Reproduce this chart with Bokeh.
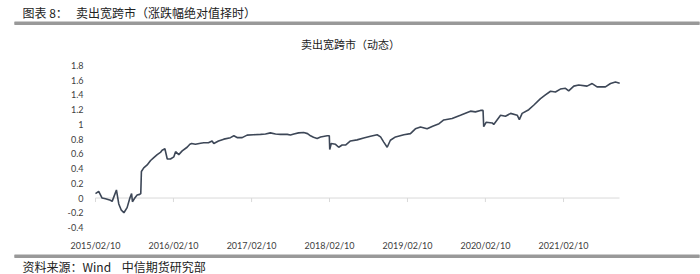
import pandas as pd
from bokeh.plotting import figure
from bokeh.models import Range1d, FixedTicker, DatetimeTickFormatter, LinearAxis, DatetimeAxis
from bokeh.core.properties import value
from bokeh.embed import file_html
from bokeh.resources import INLINE

# ---- data ----
dates = [
    "2015-02-10", "2015-02-25", "2015-03-13", "2015-03-29", "2015-04-21", "2015-04-29",
    "2015-05-10", "2015-05-19", "2015-05-30", "2015-06-10", "2015-06-23", "2015-07-08",
    "2015-07-21", "2015-07-29", "2015-08-02", "2015-08-13", "2015-08-24", "2015-09-05",
    "2015-09-10", "2015-09-13", "2015-09-24", "2015-10-10", "2015-10-26", "2015-11-10",
    "2015-11-26", "2015-12-11", "2015-12-19", "2016-01-01", "2016-01-12", "2016-01-27",
    "2016-02-12", "2016-02-20", "2016-03-06", "2016-03-22", "2016-04-14", "2016-04-27",
    "2016-05-05", "2016-05-23", "2016-06-16", "2016-07-01", "2016-07-23", "2016-08-09",
    "2016-08-17", "2016-09-08", "2016-10-03", "2016-11-03", "2016-11-19", "2016-12-06",
    "2016-12-28", "2017-01-20", "2017-02-19", "2017-03-24", "2017-04-16", "2017-05-09",
    "2017-06-02", "2017-06-25", "2017-07-27", "2017-08-11", "2017-08-27", "2017-09-18",
    "2017-10-12", "2017-10-30", "2017-11-13", "2017-11-27", "2017-12-14", "2017-12-30",
    "2018-01-30", "2018-02-09", "2018-02-11", "2018-02-18", "2018-03-10", "2018-03-25",
    "2018-04-10", "2018-04-26", "2018-05-19", "2018-06-19", "2018-07-20", "2018-08-21",
    "2018-09-21", "2018-10-07", "2018-10-22", "2018-11-07", "2018-11-22", "2018-12-16",
    "2019-01-24", "2019-02-24", "2019-03-19", "2019-04-12", "2019-05-13", "2019-06-08",
    "2019-07-08", "2019-07-30", "2019-09-07", "2019-10-16", "2019-12-02", "2019-12-25",
    "2020-01-18", "2020-01-30", "2020-02-02", "2020-02-14", "2020-03-13", "2020-03-20",
    "2020-04-21", "2020-05-14", "2020-06-07", "2020-07-08", "2020-07-18", "2020-07-31",
    "2020-08-31", "2020-09-23", "2020-10-25", "2020-11-17", "2020-12-11", "2021-01-03",
    "2021-01-26", "2021-02-19", "2021-03-06", "2021-03-30", "2021-04-22", "2021-05-31",
    "2021-06-24", "2021-07-17", "2021-08-25", "2021-09-18", "2021-10-11", "2021-10-31",
]
values = [
    0.06, 0.09, 0.00, -0.01, -0.03, -0.045,
    0.04, 0.11, -0.08, -0.16, -0.20, -0.13,
    0.00, 0.06, -0.05, 0.00, 0.04, 0.05,
    0.06, 0.36, 0.41, 0.45, 0.51, 0.55,
    0.59, 0.62, 0.65, 0.67, 0.53, 0.53,
    0.56, 0.63, 0.59, 0.64, 0.69, 0.73,
    0.74, 0.73, 0.745, 0.75, 0.75, 0.775,
    0.74, 0.775, 0.80, 0.82, 0.845, 0.82,
    0.82, 0.855, 0.86, 0.865, 0.87, 0.885,
    0.87, 0.865, 0.865, 0.855, 0.87, 0.885,
    0.89, 0.875, 0.845, 0.825, 0.81, 0.83,
    0.845, 0.845, 0.66, 0.74, 0.73, 0.69,
    0.72, 0.72, 0.775, 0.79, 0.815, 0.84,
    0.86, 0.83, 0.76, 0.69, 0.785, 0.83,
    0.86, 0.875, 0.94, 0.965, 0.94, 0.975,
    1.01, 1.06, 1.08, 1.125, 1.18, 1.17,
    1.19, 1.19, 0.97, 1.03, 1.02, 1.00,
    1.125, 1.11, 1.15, 1.125, 1.065, 1.15,
    1.20, 1.26, 1.35, 1.40, 1.45, 1.44,
    1.48, 1.49, 1.455, 1.52, 1.535, 1.52,
    1.555, 1.51, 1.51, 1.555, 1.575, 1.56,
]
x_tick_dates = ["2015-02-10", "2016-02-10", "2017-02-10", "2018-02-10",
                "2019-02-10", "2020-02-10", "2021-02-10"]
x_tick_labels = ["2015/02/10", "2016/02/10", "2017/02/10", "2018/02/10",
                 "2019/02/10", "2020/02/10", "2021/02/10"]
y_ticks = [-0.4, -0.2, 0, 0.2, 0.4, 0.6, 0.8, 1, 1.2, 1.4, 1.6, 1.8]
y_tick_labels = ["-0.4", "-0.2", "0", "0.2", "0.4", "0.6", "0.8", "1", "1.2", "1.4", "1.6", "1.8"]
x_start, x_end = "2015-02-10", "2021-10-30"
y_min, y_max = -0.4, 1.8

NB = "\u00a0"
header_text = "图表 8：" + NB * 3 + "卖出宽跨市（涨跌幅绝对值择时）"
title_text = "卖出宽跨市（动态）"
footer_text = "资料来源：Wind" + NB * 4 + "中信期货研究部"

# ---- layout constants (canvas pixels, measured from the top-left) ----
W, H = 700, 274
FL, FR, FT, FB = 95, 619, 65, 227     # plotting area of the chart
RULE_ROWS = [22.5, 255.5]             # grey rules under the header / above the source
RULE_COLOR = "#999999"
CJK = "Noto Sans CJK SC"


def to_ms(lst):
    return [float(v) for v in (pd.to_datetime(lst).asi8 // 10**6)]


def cy(y_from_top):
    # default y range runs upward; convert a from-the-top pixel position
    return H - y_from_top


xs = to_ms(dates)
tick_ms = to_ms(x_tick_dates)
start_ms, end_ms = to_ms([x_start, x_end])

# one canvas; default ranges are canvas pixels, the "d" ranges hold the data
p = figure(width=W, height=H, output_backend="svg", toolbar_location=None,
           x_range=Range1d(0, W), y_range=Range1d(0, H),
           x_axis_location=None, y_axis_location=None,
           min_border=0, min_border_left=0, min_border_right=0,
           min_border_top=0, min_border_bottom=0)
p.outline_line_color = None
p.grid.visible = False
p.background_fill_color = "white"
p.border_fill_color = "white"

kx = (end_ms - start_ms) / (FR - FL)
ky = (y_max - y_min) / (FB - FT)
p.extra_x_ranges = {"d": Range1d(start_ms - FL * kx, start_ms + (W - FL) * kx)}
p.extra_y_ranges = {"d": Range1d(y_min - (H - FB) * ky, y_min + FB * ky)}


def dx(px):
    return start_ms + (px - FL) * kx


def dy(py):
    return y_min + (FB - py) * ky


# grey rules: a filled band on the data ranges plus a bare axis line (no ticks, no labels)
p.quad(left=[dx(14)] * 2, right=[dx(W - 1)] * 2,
       top=[dy(r - 1.5) for r in RULE_ROWS], bottom=[dy(r + 1.5) for r in RULE_ROWS],
       fill_color=RULE_COLOR, line_color=None, x_range_name="d", y_range_name="d")
for row in RULE_ROWS:
    rule = LinearAxis(x_range_name="default", y_range_name="default",
                      fixed_location=cy(row), bounds=(14, W - 1),
                      ticker=FixedTicker(ticks=[]),
                      axis_line_color=RULE_COLOR, axis_line_width=3,
                      major_tick_line_color=None, minor_tick_line_color=None)
    p.add_layout(rule, "above")

p.text(x=[22], y=[cy(12)], text=[header_text], text_font=value(CJK), text_font_size="12px",
       text_color="#222222", text_baseline="middle", text_align="left")
p.text(x=[350], y=[cy(43)], text=[title_text], text_font=value(CJK), text_font_size="11px",
       text_color="#222222", text_baseline="middle", text_align="center")
p.text(x=[22], y=[cy(266)], text=[footer_text], text_font=value(CJK), text_font_size="12px",
       text_color="#222222", text_baseline="middle", text_align="left")

# zero line with outward tick marks
p.segment(x0=[start_ms], y0=[0], x1=[end_ms], y1=[0], line_color="#d9d9d9", line_width=1,
          x_range_name="d", y_range_name="d")
p.segment(x0=tick_ms, y0=[0] * len(tick_ms), x1=tick_ms, y1=[-4 * ky] * len(tick_ms),
          line_color="#d9d9d9", line_width=1, x_range_name="d", y_range_name="d")

# the series
p.line(xs, values, line_color="#3d4757", line_width=1.6, x_range_name="d", y_range_name="d")

# axes (labels only)
yax = LinearAxis(x_range_name="default", y_range_name="d", fixed_location=FL,
                 ticker=FixedTicker(ticks=y_ticks),
                 major_label_overrides={t: lab for t, lab in zip(y_ticks, y_tick_labels)})
xax = DatetimeAxis(x_range_name="d", y_range_name="default", fixed_location=cy(FB),
                   ticker=FixedTicker(ticks=tick_ms),
                   formatter=DatetimeTickFormatter(years="%Y/%m/%d", months="%Y/%m/%d",
                                                   days="%Y/%m/%d"),
                   major_label_overrides={int(t): lab for t, lab in zip(tick_ms, x_tick_labels)})
for ax in (xax, yax):
    ax.axis_line_color = None
    ax.major_tick_line_color = None
    ax.minor_tick_line_color = None
    ax.major_label_text_font = "Lato"
    ax.major_label_text_font_size = "9px"
    ax.major_label_text_color = "#404040"
    ax.major_label_standoff = 6
p.add_layout(yax, "left")
p.add_layout(xax, "below")

open("out.html", "w").write(file_html(p, INLINE))
